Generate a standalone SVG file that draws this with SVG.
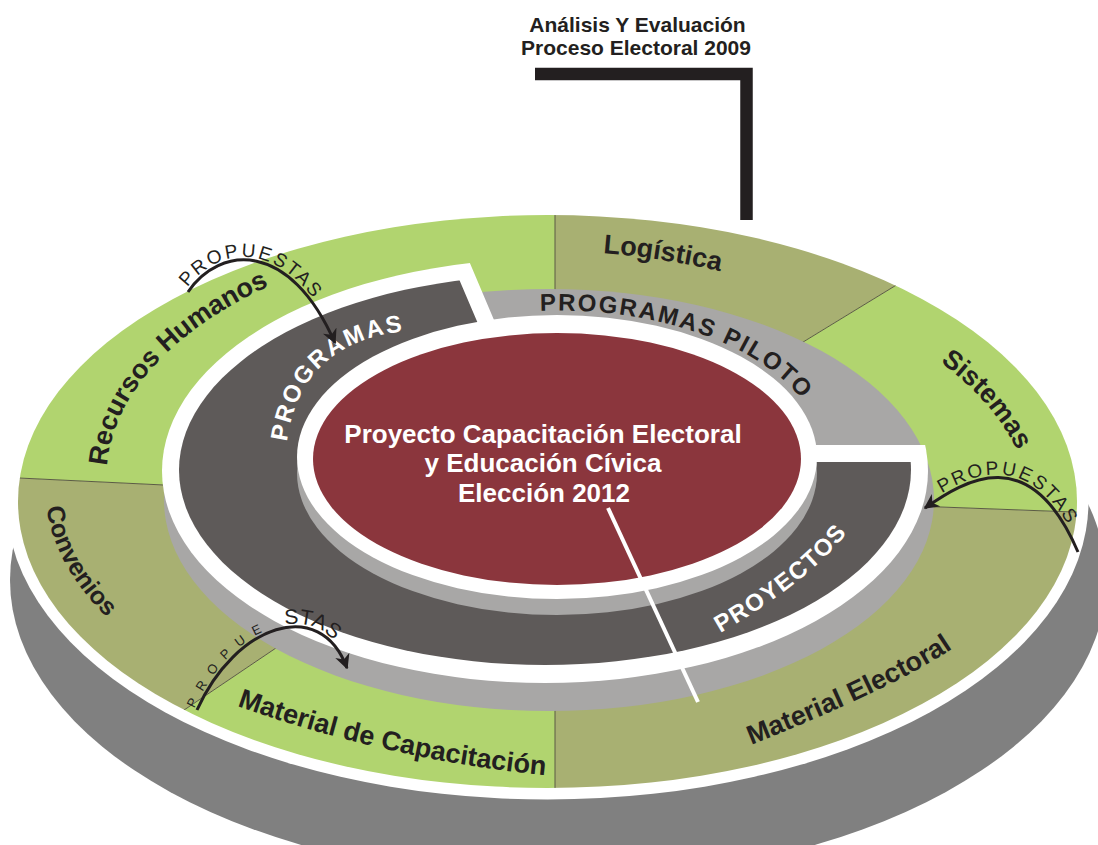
<svg xmlns="http://www.w3.org/2000/svg" width="1098" height="845" viewBox="0 0 1098 845">
<defs>
<style>
.lg{fill:#b1d46f}
.ol{fill:#a8b072}
.lbl{font-family:"Liberation Sans",Arial,Helvetica,sans-serif;font-weight:bold;font-size:27px;fill:#231f20}
.mid{font-family:"Liberation Sans",Arial,Helvetica,sans-serif;font-weight:bold;font-size:24px;letter-spacing:2px}
.ctr{font-family:"Liberation Sans",Arial,Helvetica,sans-serif;font-weight:bold;font-size:26px;fill:#ffffff}
.ttl{font-family:"Liberation Sans",Arial,Helvetica,sans-serif;font-weight:bold;font-size:21px;fill:#231f20}
.prop{font-family:"Liberation Sans",Arial,Helvetica,sans-serif;font-size:19px;fill:#231f20}
.arc{fill:none;stroke:#231f20;stroke-width:3}
.div{stroke:#5b5b44;stroke-width:1}
</style>
<clipPath id="outerClip"><ellipse cx="547.5" cy="501.5" rx="529.5" ry="286.5"/></clipPath>
<clipPath id="whiteClip"><path d="M547,445 L1100,445 L1100,900 L-20,900 L-20,150 L422,150 Z"/></clipPath>
<clipPath id="darkClip"><path d="M537,462 L1100,462 L1100,900 L-20,900 L-20,150 L404,150 Z"/></clipPath>
<marker id="ah" viewBox="0 0 10 10" refX="9" refY="5" markerWidth="5" markerHeight="5" orient="auto" markerUnits="strokeWidth">
<path d="M0,0 L10,5 L0,10 L3,5 Z" fill="#231f20"/>
</marker>
<path id="p-log" d="M603,253 Q663,257.9 723,272 L762,281.2"/>
<path id="p-sis" d="M940,362 Q989.9,398.6 1015,446 L1033.7,481.4"/>
<path id="p-rh" d="M107,466 A463,250 0 0 1 270,285.6 L307.5,271.6"/>
<path id="p-con" d="M46.5,507.5 A495,268 0 0 0 103.5,614 L129.7,644.2"/>
<path id="p-mcap" d="M237,706 Q390,759.7 543,775 L583,779"/>
<path id="p-mel" d="M751,745 Q897.3,686.8 955,646.7 L988,623.7"/>
<path id="p-prog" d="M287,442 Q300.5,338 416,330 L456,327.2"/>
<path id="p-pil" d="M540,310.8 A266,146.5 0 0 1 819,431.6"/>
<path id="p-proy" d="M720,633 Q811.9,580.2 851.6,527.2 L875.6,495.2"/>
<path id="t1" d="M188,292 C220,245 290,240 335,343"/>
<path id="t2" d="M925,508 C965,480 1030,440 1078,552"/>
<path id="t3" d="M197,710 C235,625 320,595 347,668"/>
</defs>

<g id="platform">
<ellipse cx="558" cy="580" rx="548" ry="300" fill="#808080"/>
<ellipse cx="547.5" cy="501.5" rx="541" ry="298" fill="#ffffff"/>
</g>

<g id="outer-ring" clip-path="url(#outerClip)">
<g id="recursos-humanos"><polygon class="lg" points="547.5,501.5 183,486 -50,474.6 -50,100 555,100 555,295"/></g>
<g id="logistica"><polygon class="ol" points="547.5,501.5 555,295 555,100 1000,222 798,345"/></g>
<g id="sistemas"><polygon class="lg" points="547.5,501.5 798,345 1000,222 1150,222 1150,515 920,506.3"/></g>
<g id="material-electoral"><polygon class="ol" points="547.5,501.5 920,506.3 1150,515 1150,850 555,850 555,705"/></g>
<g id="material-capacitacion"><polygon class="lg" points="547.5,501.5 555,705 555,850 0,850 0,834.2 291,638"/></g>
<g id="convenios"><polygon class="ol" points="547.5,501.5 291,638 0,834.2 -50,834.2 -50,474.6 183,486"/></g>
<g id="sector-dividers">
<line class="div" x1="555" y1="300" x2="555" y2="200"/>
<line class="div" x1="790" y1="350" x2="930" y2="264.5"/>
<line class="div" x1="930" y1="506.6" x2="1100" y2="513"/>
<line class="div" x1="555" y1="700" x2="555" y2="800"/>
<line class="div" x1="280" y1="645.3" x2="150" y2="733"/>
<line class="div" x1="170" y1="485.3" x2="0" y2="477.1"/>
</g>
</g>

<g id="outer-labels">
<text class="lbl"><textPath href="#p-log">Logística</textPath></text>
<text class="lbl"><textPath href="#p-sis">Sistemas</textPath></text>
<text class="lbl"><textPath href="#p-rh">Recursos Humanos</textPath></text>
<text class="lbl" style="font-size:25px"><textPath href="#p-con">Convenios</textPath></text>
<text class="lbl"><textPath href="#p-mcap">Material de Capacitación</textPath></text>
<text class="lbl"><textPath href="#p-mel">Material Electoral</textPath></text>
</g>

<g id="programas-piloto">
<ellipse cx="549" cy="500" rx="385" ry="211" fill="#a8a7a6"/>
</g>

<g id="raised-ring">
<ellipse cx="545" cy="471" rx="383" ry="212" fill="#ffffff" clip-path="url(#whiteClip)"/>
<ellipse cx="545" cy="470" rx="366" ry="195" fill="#5e5a59" clip-path="url(#darkClip)"/>
</g>

<g id="center">
<ellipse cx="557" cy="473" rx="260" ry="142" fill="#a8a7a6"/>
<ellipse cx="557" cy="457" rx="260" ry="142" fill="#ffffff"/>
<ellipse cx="557" cy="459" rx="244" ry="126" fill="#8b363d"/>
<text class="ctr" text-anchor="middle" x="543" y="443">Proyecto Capacitación Electoral</text>
<text class="ctr" text-anchor="middle" x="543" y="472">y Educación Cívica</text>
<text class="ctr" text-anchor="middle" x="544" y="502">Elección 2012</text>
</g>

<g id="middle-labels">
<text class="mid" fill="#231f20"><textPath href="#p-pil">PROGRAMAS PILOTO</textPath></text>
<text class="mid" fill="#ffffff"><textPath href="#p-prog">PROGRAMAS</textPath></text>
<text class="mid" fill="#ffffff" style="letter-spacing:1.5px"><textPath href="#p-proy">PROYECTOS</textPath></text>
</g>

<g id="split-line">
<line x1="608" y1="508" x2="698" y2="702" stroke="#ffffff" stroke-width="4"/>
</g>

<g id="title">
<text class="ttl" text-anchor="middle" x="637.5" y="32">Análisis Y Evaluación</text>
<text class="ttl" text-anchor="middle" x="636" y="55">Proceso Electoral 2009</text>
</g>

<g id="connectors">
<path d="M535,74 H746.5 V220" fill="none" stroke="#231f20" stroke-width="12.5" stroke-linejoin="miter"/>
<path class="arc" d="M188,292 C220,245 290,240 335,343" marker-end="url(#ah)"/>
<path class="arc" d="M1078,552 C1030,440 965,480 925,508" marker-end="url(#ah)"/>
<path class="arc" d="M197,710 C235,625 320,595 347,668" marker-end="url(#ah)"/>
<text class="prop" style="letter-spacing:1.8px"><textPath href="#t1" startOffset="3"><tspan dy="-3">PROPUESTAS</tspan></textPath></text>
<text class="prop" style="letter-spacing:1.8px"><textPath href="#t2" startOffset="22"><tspan dy="-3">PROPUESTAS</tspan></textPath></text>
<text class="prop"><textPath href="#t3"><tspan dy="-3" font-size="13" letter-spacing="9.5">PROPUE</tspan><tspan dx="13" font-size="21" letter-spacing="-0.5">STAS</tspan></textPath></text>
</g>
</svg>
